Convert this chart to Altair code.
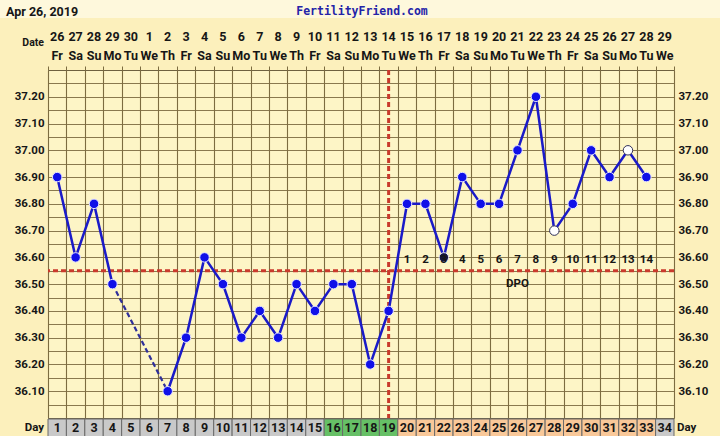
import altair as alt
import pandas as pd

# ---------------- data ----------------
days = list(range(1, 35))
dates = ["26", "27", "28", "29", "30"] + [str(i) for i in range(1, 30)]
weekdays = (["Fr", "Sa", "Su", "Mo", "Tu", "We", "Th"] * 5)[:34]
temps = [36.90, 36.60, 36.80, 36.50, None, None, 36.10, 36.30, 36.60, 36.50,
         36.30, 36.40, 36.30, 36.50, 36.40, 36.50, 36.50, 36.20, 36.40, 36.80,
         36.80, 36.60, 36.90, 36.80, 36.80, 37.00, 37.20, 36.70, 36.80, 37.00,
         36.90, 37.00, 36.90, None]
open_days = [28, 32]
dark_days = [22]
phases = ["none"] * 15 + ["fertile"] * 4 + ["luteal"] * 14 + ["none"]
dpo_days = list(range(20, 34))
dpo_labels = [str(i) for i in range(1, 15)]
coverline = 36.55
ovulation_day = 19
dpo_title_day = 26
left_ticks = [round(36.0 + 0.05 * i, 2) for i in range(1, 26)]
right_ticks = [round(36.1 + 0.1 * i, 2) for i in range(0, 12)]
boundaries = [d - 0.5 for d in days] + [34.5]

# ---------------- tables ----------------
df = pd.DataFrame({"day": days, "date": dates, "wd": weekdays,
                   "temp": temps, "phase": phases})
df["d0"] = df["day"] - 0.5
df["d1"] = df["day"] + 0.5

rec = df.dropna(subset=["temp"]).copy()
seg, s = [], 0
prev = None
for d in rec["day"]:
    if prev is not None and d - prev > 1:
        s += 1
    seg.append(s)
    prev = d
rec["seg"] = seg
kinds = []
for d in rec["day"]:
    kinds.append("open" if d in open_days else ("dark" if d in dark_days else "fill"))
rec["kind"] = kinds

gap_rows = []
rl = rec.reset_index(drop=True)
for i in range(1, len(rl)):
    if rl.loc[i, "day"] - rl.loc[i - 1, "day"] > 1:
        gap_rows.append({"day": rl.loc[i - 1, "day"], "temp": rl.loc[i - 1, "temp"], "g": i})
        gap_rows.append({"day": rl.loc[i, "day"], "temp": rl.loc[i, "temp"], "g": i})
gaps = pd.DataFrame(gap_rows)

dpo = pd.DataFrame({"day": dpo_days, "lab": dpo_labels})

xs = alt.Scale(domain=[0.5, 34.5], nice=False, zero=False)
ys = alt.Scale(domain=[36.0, 37.3], nice=False, zero=False)
FONT = "Roboto"
TXT = "#161616"
GRID = "#7C6C40"
one = pd.DataFrame({"t": [""]})

# top lighter band
band = alt.Chart(one).mark_rect(color="#FEF8DC").encode(
    x=alt.value(-48), x2=alt.value(672), y=alt.value(-70), y2=alt.value(-52))

# axis carriers
left_axis = alt.Chart(rec).mark_point(opacity=0).encode(
    x=alt.X("day:Q", scale=xs, axis=alt.Axis(
        orient="top", values=boundaries, grid=True, gridColor=GRID, gridWidth=1.1,
        gridOpacity=1, labels=False, ticks=True, tickSize=4, tickColor=GRID,
        domain=False, title=None)),
    y=alt.Y("temp:Q", scale=ys, axis=alt.Axis(
        orient="left", values=left_ticks, grid=True, gridColor=GRID, gridWidth=1,
        gridOpacity=0.9, ticks=False, domain=False, title=None,
        labelExpr="(round(datum.value*100) % 10 == 0) ? format(datum.value, '.2f') : ''",
        labelFont=FONT, labelFontWeight="bold", labelFontSize=11.5, labelColor=TXT,
        labelPadding=4)),
)
right_axis = alt.Chart(rec).mark_point(opacity=0).encode(
    x=alt.X("day:Q", scale=xs, axis=None),
    y=alt.Y("temp:Q", scale=ys, axis=alt.Axis(
        orient="right", values=right_ticks, format=".2f", grid=False, ticks=False,
        domain=False, title=None, labelFont=FONT, labelFontWeight="bold",
        labelFontSize=11.5, labelColor=TXT, labelPadding=4)),
)

cover = alt.Chart(pd.DataFrame({"c": [coverline]})).mark_rule(
    color="#C93A2C", strokeWidth=3, strokeDash=[5, 3]).encode(
    y=alt.Y("c:Q", scale=ys, axis=None))
ovu = alt.Chart(pd.DataFrame({"o": [ovulation_day]})).mark_rule(
    color="#C93A2C", strokeWidth=3, strokeDash=[5, 3]).encode(
    x=alt.X("o:Q", scale=xs, axis=None))

line = alt.Chart(rec).mark_line(color="#1A1AC8", strokeWidth=2.5).encode(
    x=alt.X("day:Q", scale=xs, axis=None),
    y=alt.Y("temp:Q", scale=ys, axis=None),
    detail="seg:N")
dash = alt.Chart(gaps).mark_line(color="#2F2F9A", strokeWidth=2.2, strokeDash=[5, 3]).encode(
    x=alt.X("day:Q", scale=xs, axis=None),
    y=alt.Y("temp:Q", scale=ys, axis=None),
    detail="g:N")

pts = alt.Chart(rec).mark_point(filled=True, size=90, opacity=1, strokeWidth=1).encode(
    x=alt.X("day:Q", scale=xs, axis=None),
    y=alt.Y("temp:Q", scale=ys, axis=None),
    fill=alt.Fill("kind:N", scale=alt.Scale(domain=["fill", "dark", "open"],
                                            range=["#1010E8", "#14143E", "#FFFFFF"]), legend=None),
    stroke=alt.Stroke("kind:N", scale=alt.Scale(domain=["fill", "dark", "open"],
                                                range=["#E8E8FF", "#E8E8FF", "#30305A"]), legend=None),
)

tstyle = dict(font=FONT, fontWeight="bold", color=TXT)

date_row = alt.Chart(df).mark_text(fontSize=12.5, **tstyle).encode(
    x=alt.X("day:Q", scale=xs, axis=None), y=alt.value(-33), text="date:N")
wd_row = alt.Chart(df).mark_text(fontSize=12.5, **tstyle).encode(
    x=alt.X("day:Q", scale=xs, axis=None), y=alt.value(-14), text="wd:N")
date_lab = alt.Chart(pd.DataFrame({"t": ["Date"]})).mark_text(
    fontSize=10.5, align="right", **tstyle).encode(
    x=alt.value(-4), y=alt.value(-27), text="t:N")
title = alt.Chart(pd.DataFrame({"t": ["Apr 26, 2019"]})).mark_text(
    fontSize=12.5, align="left", **tstyle).encode(
    x=alt.value(-42), y=alt.value(-58), text="t:N")
site = alt.Chart(pd.DataFrame({"t": ["FertilityFriend.com"]})).mark_text(
    fontSize=11.5, font="DejaVu Sans Mono", fontWeight="bold", color="#2424A8").encode(
    x=alt.value(314), y=alt.value(-58), text="t:N")

cells = alt.Chart(df).mark_rect(stroke="#6A6A6A", strokeWidth=1).encode(
    x=alt.X("d0:Q", scale=xs, axis=None), x2="d1:Q",
    y=alt.value(349), y2=alt.value(367),
    fill=alt.Fill("phase:N", scale=alt.Scale(domain=["none", "fertile", "luteal"],
                                            range=["#C9C9C9", "#66C066", "#F9C899"]), legend=None))
cell_txt = alt.Chart(df).mark_text(fontSize=12.5, **tstyle).encode(
    x=alt.X("day:Q", scale=xs, axis=None), y=alt.value(358), text="day:N")
day_l = alt.Chart(pd.DataFrame({"t": ["Day"]})).mark_text(
    fontSize=11.5, align="right", **tstyle).encode(x=alt.value(-4), y=alt.value(358), text="t:N")
day_r = alt.Chart(pd.DataFrame({"t": ["Day"]})).mark_text(
    fontSize=11.5, align="left", **tstyle).encode(x=alt.value(629), y=alt.value(358), text="t:N")

dpo_txt = alt.Chart(dpo).mark_text(fontSize=11.5, **tstyle).encode(
    x=alt.X("day:Q", scale=xs, axis=None), y=alt.value(190), text="lab:N")
dpo_title = alt.Chart(pd.DataFrame({"d": [dpo_title_day], "t": ["DPO"]})).mark_text(
    fontSize=11.5, **tstyle).encode(
    x=alt.X("d:Q", scale=xs, axis=None), y=alt.value(214), text="t:N")

chart = alt.layer(
    band, left_axis, right_axis, cells, cell_txt, day_l, day_r,
    cover, ovu, dash, line, pts, date_row, wd_row, date_lab, title, site,
    dpo_txt, dpo_title,
).resolve_axis(x="independent", y="independent").resolve_scale(
    fill="independent", stroke="independent"
).properties(
    width=626, height=348,
    autosize=alt.AutoSizeParams(type="none"),
    padding={"left": 48, "top": 70, "right": 46, "bottom": 18},
).configure(background="#FCF0BC").configure_view(
    fill="#FDF5C6", stroke="#6E6240", strokeWidth=1)

chart.save("out.html", embed_options={"renderer": "svg", "actions": False})
